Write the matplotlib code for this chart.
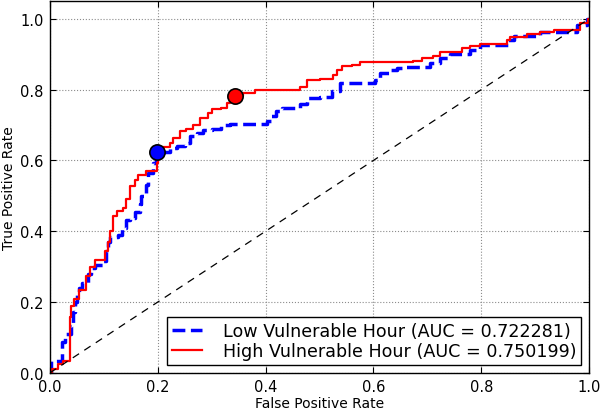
import matplotlib
matplotlib.use('Agg')
import matplotlib.pyplot as plt

# ROC curves: (fpr where the curve steps up, tpr after the step)
low_fpr = [0.0, 0.002, 0.022, 0.028, 0.04, 0.043, 0.047, 0.05, 0.055, 0.06, 0.071, 0.077,
           0.083, 0.099, 0.105, 0.108, 0.112, 0.127, 0.134, 0.142, 0.148, 0.158, 0.167, 0.17,
           0.179, 0.182, 0.192, 0.196, 0.21, 0.223, 0.235, 0.25, 0.26, 0.272, 0.284, 0.30,
           0.318, 0.334, 0.402, 0.411, 0.42, 0.43, 0.464, 0.476, 0.50, 0.523, 0.538, 0.603,
           0.612, 0.631, 0.643, 0.655, 0.705, 0.724, 0.742, 0.779, 0.798, 0.85, 0.86, 0.909,
           0.977, 0.995, 1.0]
low_tpr = [0.0, 0.035, 0.087, 0.11, 0.133, 0.171, 0.2, 0.22, 0.24, 0.255, 0.279, 0.297,
           0.305, 0.316, 0.343, 0.37, 0.383, 0.389, 0.41, 0.432, 0.437, 0.453, 0.476, 0.50,
           0.532, 0.565, 0.593, 0.624, 0.625, 0.636, 0.64, 0.65, 0.668, 0.678, 0.687, 0.69,
           0.699, 0.704, 0.71, 0.725, 0.739, 0.748, 0.758, 0.776, 0.78, 0.795, 0.82, 0.828,
           0.847, 0.856, 0.861, 0.864, 0.875, 0.889, 0.901, 0.913, 0.927, 0.941, 0.95, 0.964,
           0.983, 1.0, 1.0]

high_fpr = [0.0, 0.005, 0.015, 0.025, 0.037, 0.04, 0.045, 0.055, 0.068, 0.074, 0.083, 0.103,
            0.108, 0.112, 0.117, 0.124, 0.136, 0.142, 0.148, 0.158, 0.164, 0.179, 0.198, 0.201,
            0.21, 0.223, 0.229, 0.241, 0.253, 0.266, 0.278, 0.294, 0.30, 0.318, 0.328, 0.334,
            0.343, 0.359, 0.38, 0.464, 0.476, 0.50, 0.525, 0.532, 0.541, 0.56, 0.575, 0.674,
            0.69, 0.711, 0.724, 0.764, 0.779, 0.798, 0.847, 0.853, 0.884, 0.909, 0.934, 0.983,
            0.997, 1.0]
high_tpr = [0.0, 0.011, 0.024, 0.035, 0.158, 0.19, 0.21, 0.235, 0.274, 0.30, 0.32, 0.343,
            0.37, 0.40, 0.443, 0.457, 0.466, 0.49, 0.527, 0.544, 0.56, 0.57, 0.594, 0.62,
            0.638, 0.65, 0.664, 0.682, 0.69, 0.70, 0.72, 0.735, 0.745, 0.749, 0.763, 0.77,
            0.783, 0.79, 0.80, 0.806, 0.826, 0.83, 0.84, 0.856, 0.866, 0.87, 0.877, 0.882,
            0.889, 0.896, 0.905, 0.917, 0.924, 0.93, 0.941, 0.949, 0.957, 0.963, 0.969, 0.988,
            1.0, 1.0]

low_label = 'Low Vulnerable Hour (AUC = 0.722281)'
high_label = 'High Vulnerable Hour (AUC = 0.750199)'

# chosen operating points
low_pt = (0.199, 0.624)
high_pt = (0.343, 0.783)

fig = plt.figure(figsize=(6, 4.1), dpi=100)
ax = fig.add_axes([0.083, 0.088, 0.899, 0.907])

ax.plot(low_fpr, low_tpr, color='blue', ls='--', lw=2.5, drawstyle='steps-post', label=low_label)
ax.plot(high_fpr, high_tpr, color='red', ls='-', lw=1.6, drawstyle='steps-post', label=high_label)
ax.plot([0, 1], [0, 1], color='black', lw=0.9, dashes=(6, 5))

ax.plot(*low_pt, 'o', color='blue', mec='black', mew=1.2, ms=11)
ax.plot(*high_pt, 'o', color='red', mec='black', mew=1.2, ms=11)

ax.set_xlim(0, 1)
ax.set_ylim(0, 1.05)
ax.set_xticks([0, 0.2, 0.4, 0.6, 0.8, 1.0])
ax.set_yticks([0, 0.2, 0.4, 0.6, 0.8, 1.0])
ax.grid(True, color='0.55', ls=':', lw=0.8)
ax.tick_params(direction='in', top=True, right=True, length=4, labelsize=10.5, pad=4.5)
for s in ax.spines.values():
    s.set_linewidth(1.0)

ax.set_xlabel('False Positive Rate', fontsize=10, labelpad=1)
ax.set_ylabel('True Positive Rate', fontsize=10, labelpad=3)

leg = ax.legend(loc='lower right', fontsize=12.6, fancybox=False, framealpha=1,
                edgecolor='black', borderaxespad=0.45, handlelength=1.7,
                labelspacing=0.1, borderpad=0.3, handletextpad=1.2)
leg.get_frame().set_linewidth(1.0)

fig.savefig('out.png', dpi=100)
